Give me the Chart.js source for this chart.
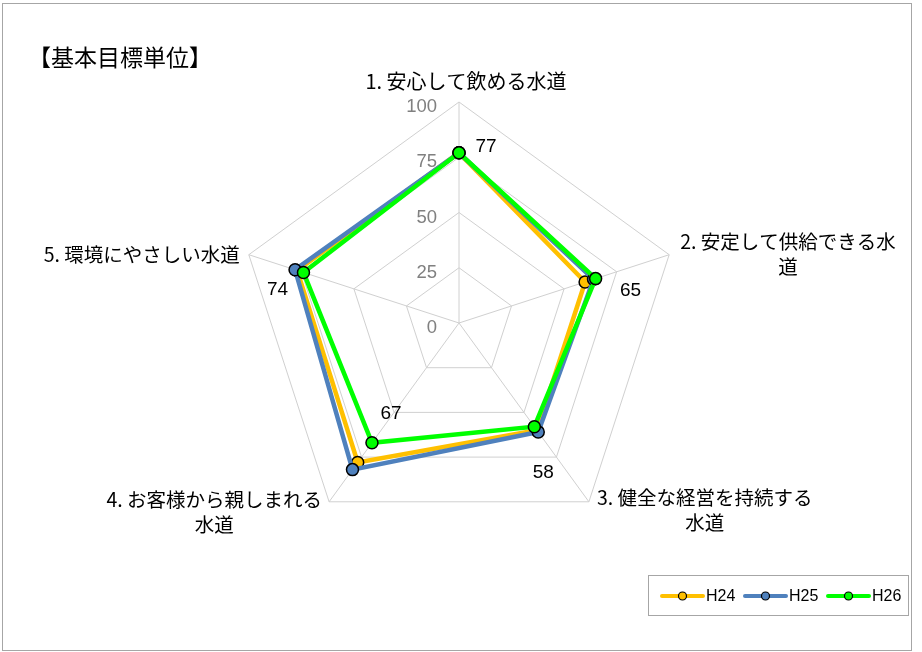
<!DOCTYPE html>
<html><head><meta charset="utf-8">
<script src="https://cdn.jsdelivr.net/npm/chart.js@4/dist/chart.umd.min.js"></script>
<style>html,body{margin:0;padding:0;background:#fff}canvas{display:block}</style>
</head><body>
<canvas id="c" width="922" height="652"></canvas>
<script>
const title = '【基本目標単位】';
const categories = [
  ['1. 安心して飲める水道'],
  ['2. 安定して供給できる水', '道'],
  ['3. 健全な経営を持続する', '水道'],
  ['4. お客様から親しまれる', '水道'],
  ['5. 環境にやさしい水道']
];
const seriesNames = ['H24', 'H25', 'H26'];
const h24 = [77, 60, 60, 78, 77];
const h25 = [77, 64, 61, 82, 78];
const h26 = [77, 65, 58, 67, 74];
const tickValues = [0, 25, 50, 75, 100];
const valueLabels = h26;
const colors = ['#FFC000', '#4F81BD', '#00FF00'];

const JP = '"Noto Sans CJK JP", "Noto Sans", sans-serif';
const NUM = '"Liberation Sans", Arial, sans-serif';
// label offsets relative to the data point (px)
const valueOffsets = [[27, -6], [35, 12], [9, 46], [19, -29], [-26, 17]];
const labelSizes = [20, 19.5, 19.5, 19.5, 19.5];

const decor = {
  id: 'decor',
  beforeDraw(chart) {
    const ctx = chart.ctx;
    ctx.save();
    ctx.fillStyle = '#fff';
    ctx.fillRect(0, 0, chart.width, chart.height);
    ctx.strokeStyle = '#a6a6a6';
    ctx.lineWidth = 1;
    ctx.strokeRect(2.5, 3.5, 909, 647);
    ctx.fillStyle = '#000';
    ctx.font = '23px ' + JP;
    ctx.textAlign = 'left';
    ctx.textBaseline = 'middle';
    ctx.fillText(title, 28, 57);
    ctx.restore();
  },
  beforeDatasetsDraw(chart) {
    const ctx = chart.ctx;
    const s = chart.scales.r;
    ctx.save();
    // tick labels
    ctx.fillStyle = '#808080';
    ctx.font = '18.5px ' + NUM;
    ctx.textAlign = 'right';
    ctx.textBaseline = 'middle';
    tickValues.forEach(v => {
      const d = s.getDistanceFromCenterForValue(v);
      ctx.fillText(String(v), s.xCenter - 22, s.yCenter - d + 5);
    });
    // category labels
    ctx.fillStyle = '#000';
    ctx.textAlign = 'center';
    const lh = 25;
    categories.forEach((lines, i) => {
      ctx.font = labelSizes[i] + 'px ' + JP;
      const p = s.getPointPosition(i, s.drawingArea);
      const w = Math.max(...lines.map(l => ctx.measureText(l).width));
      let cx, cy;
      if (i === 0) { cx = p.x + 7; cy = p.y - 21; }
      else if (i === 1) { cx = p.x + 11 + w / 2; cy = p.y - 13; }
      else if (i === 2) { cx = p.x + 8 + w / 2; cy = p.y - 4; }
      else if (i === 3) { cx = p.x - 7 - w / 2; cy = p.y - 2; }
      else { cx = p.x - 9 - w / 2; cy = p.y; }
      lines.forEach((l, k) => ctx.fillText(l, cx, cy + k * lh));
    });
    ctx.restore();
  },
  afterDatasetsDraw(chart) {
    const ctx = chart.ctx;
    const s = chart.scales.r;
    ctx.save();
    ctx.fillStyle = '#000';
    ctx.font = '19px ' + NUM;
    ctx.textAlign = 'center';
    ctx.textBaseline = 'middle';
    valueLabels.forEach((v, i) => {
      const p = s.getPointPositionForValue(i, v);
      ctx.fillText(String(v), p.x + valueOffsets[i][0], p.y + valueOffsets[i][1]);
    });
    // legend
    const bx = 648.5, by = 575.5, bw = 260, bh = 40;
    ctx.strokeStyle = '#a6a6a6';
    ctx.lineWidth = 1;
    ctx.strokeRect(bx, by, bw, bh);
    const ly = 596;
    const starts = [662, 745, 828];
    ctx.font = '16px ' + NUM;
    ctx.textAlign = 'left';
    seriesNames.forEach((name, i) => {
      const x0 = starts[i];
      const col = colors[i];
      ctx.strokeStyle = col;
      ctx.lineWidth = 4;
      ctx.lineCap = 'round';
      ctx.beginPath(); ctx.moveTo(x0, ly); ctx.lineTo(x0 + 41, ly); ctx.stroke();
      ctx.beginPath(); ctx.arc(x0 + 20.5, ly, 4, 0, Math.PI * 2);
      ctx.fillStyle = col; ctx.fill();
      ctx.lineWidth = 1.2; ctx.strokeStyle = '#000'; ctx.stroke();
      ctx.fillStyle = '#000';
      ctx.fillText(name, x0 + 44, ly + 1);
    });
    ctx.restore();
  }
};

const datasets = [h24, h25, h26].map((d, i) => ({
  label: seriesNames[i],
  data: d,
  order: 2 - i,
  borderColor: colors[i],
  backgroundColor: colors[i],
  fill: false,
  borderWidth: 4.5,
  pointRadius: 6,
  pointBorderWidth: 1.5,
  pointBorderColor: '#000',
  pointBackgroundColor: colors[i],
  tension: 0
}));

new Chart(document.getElementById('c'), {
  type: 'radar',
  data: { labels: categories.map(c => c.join('')), datasets },
  options: {
    responsive: false,
    devicePixelRatio: 1,
    animation: false,
    layout: { padding: { left: 238, right: 242, top: 102, bottom: 108 } },
    plugins: { legend: { display: false }, tooltip: { enabled: false } },
    scales: {
      r: {
        min: 0, max: 100,
        ticks: { display: false, stepSize: 25 },
        pointLabels: { display: false },
        grid: { color: '#d0d0d0', lineWidth: 1 },
        angleLines: { color: '#d0d0d0', lineWidth: 1 }
      }
    }
  },
  plugins: [decor]
});
</script>
</body></html>
